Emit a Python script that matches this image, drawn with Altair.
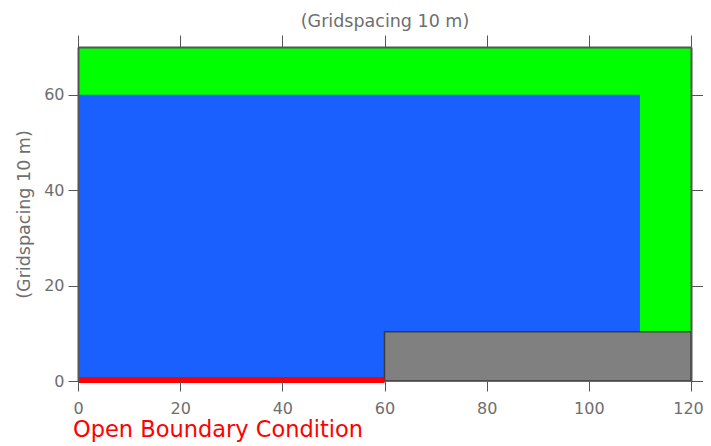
import altair as alt
import pandas as pd

# Regions of the model domain (grid units, gridspacing 10 m)
region_names = ["Domain", "Water", "Wall"]
region_x0 = [0, 0, 60]
region_x1 = [120, 110, 120]
region_y0 = [0, 0, 0]
region_y1 = [70, 60, 10.3]
region_colors = ["#00ff00", "#1a60ff", "#808080"]

# Open boundary segment along the bottom edge
boundary_x0 = [0]
boundary_x1 = [60]
boundary_y = [0.2]

x_ticks = [0, 20, 40, 60, 80, 100, 120]
y_ticks = [0, 20, 40, 60]
x_domain = [0, 120]
y_domain = [0, 70]

regions = pd.DataFrame({"name": region_names, "x0": region_x0, "x1": region_x1,
                        "y0": region_y0, "y1": region_y1})
boundary = pd.DataFrame({"x0": boundary_x0, "x1": boundary_x1, "y": boundary_y})

FONT = "DejaVu Sans"
LBL = "#6e6e6e"
AX = "#555555"

common_axis = dict(domainColor=AX, domainWidth=2, tickColor=AX, tickWidth=1,
                   zindex=1, labelFont=FONT, labelFontSize=16, labelColor=LBL,
                   labelFlush=False,
                   titleFont=FONT, titleFontSize=17.5, titleFontWeight="normal",
                   titleColor=LBL, grid=False)

xs = alt.Scale(domain=x_domain, nice=False, zero=False)
ys = alt.Scale(domain=y_domain, nice=False, zero=False)
cs = alt.Scale(domain=region_names, range=region_colors)

base = alt.Chart(regions)

fill_layer = base.transform_filter(alt.datum.name != "Wall").mark_rect(strokeWidth=0).encode(
    x=alt.X("x0:Q", scale=xs, axis=alt.Axis(
        orient="bottom", values=x_ticks, tickSize=10, labelPadding=9, title=None,
        domain=False,
        labelOffset={"condition": {"test": "datum.value >= 120", "value": -3}, "value": 0},
        **common_axis)),
    x2="x1:Q",
    y=alt.Y("y0:Q", scale=ys, axis=alt.Axis(orient="left", values=y_ticks, tickSize=10,
                                            labelPadding=4, title="(Gridspacing 10 m)",
                                            titlePadding=10, **common_axis)),
    y2="y1:Q",
    color=alt.Color("name:N", scale=cs, legend=None),
)

wall_layer = base.transform_filter(alt.datum.name == "Wall").mark_rect(
    stroke="#3a3a3a", strokeWidth=1.5).encode(
    x=alt.X("x0:Q", scale=xs, axis=alt.Axis(orient="top", values=x_ticks, tickSize=12,
                                            labels=False, title="(Gridspacing 10 m)",
                                            titlePadding=4, **common_axis)),
    x2="x1:Q",
    y=alt.Y("y0:Q", scale=ys, axis=alt.Axis(orient="right", values=y_ticks, tickSize=12,
                                            labels=False, title=None, **common_axis)),
    y2="y1:Q",
    color=alt.Color("name:N", scale=cs, legend=None),
)

boundary_layer = alt.Chart(boundary).mark_rule(color="#ff0000", strokeWidth=6).encode(
    x=alt.X("x0:Q", scale=xs, axis=None),
    x2="x1:Q",
    y=alt.Y("y:Q", scale=ys, axis=None),
)

chart = alt.layer(fill_layer, wall_layer, boundary_layer).resolve_axis(
    x="independent", y="independent"
).properties(
    width=613, height=334,
    autosize=alt.AutoSizeParams(type="none"),
    padding={"left": 70, "top": 39, "right": 12, "bottom": 61},
    title=alt.TitleParams("Open Boundary Condition", orient="bottom", anchor="start",
                          frame="group", color="#ff0000", fontSize=22.5, font=FONT,
                          fontWeight="normal", offset=3, dx=-5),
).configure_view(stroke=None)

chart.save("out.html", embed_options={"renderer": "svg", "actions": False})
